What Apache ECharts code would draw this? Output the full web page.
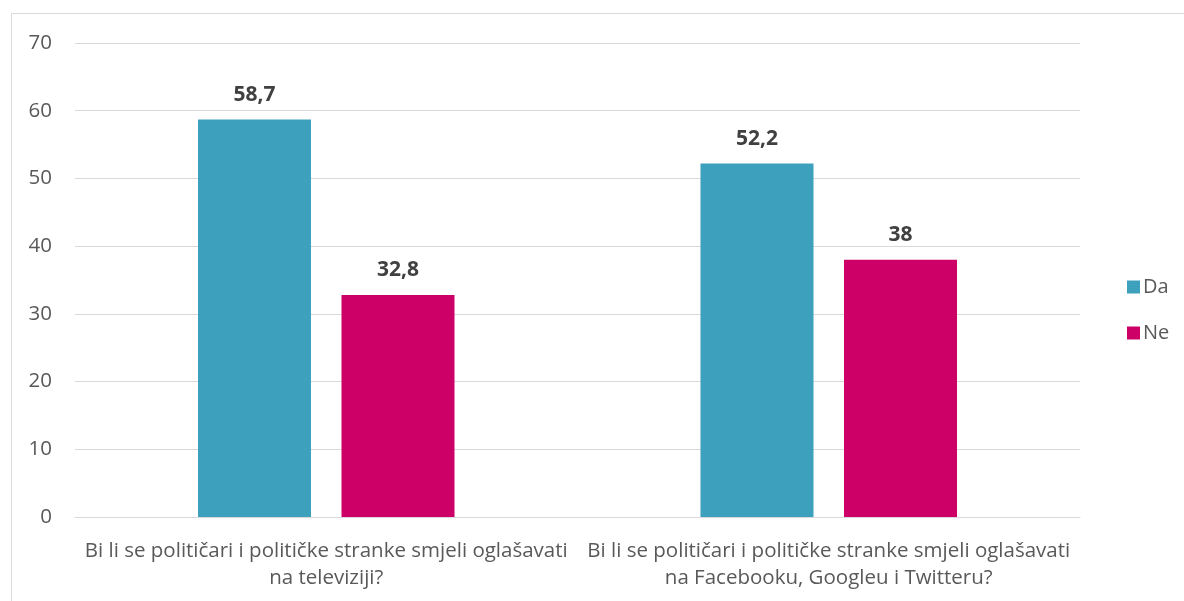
<!DOCTYPE html>
<html>
<head>
<meta charset="utf-8">
<script src="https://cdn.jsdelivr.net/npm/echarts@6/dist/echarts.min.js"></script>
<style>
  html, body { margin: 0; padding: 0; background: #fff; }
  #chart { width: 1184px; height: 601px; }
</style>
</head>
<body>
<div id="chart"></div>
<script>
// kategorije (pitanja)
var categories = [
  'Bi li se političari i političke stranke smjeli oglašavati\nna televiziji?',
  'Bi li se političari i političke stranke smjeli oglašavati\nna Facebooku, Googleu i Twitteru?'
];
var daValues = [58.7, 52.2];
var neValues = [32.8, 38];
var yTicks = [0, 10, 20, 30, 40, 50, 60, 70];

var fontFamily = '"Open Sans", "Noto Sans", sans-serif';

function commaLabel (p) {
  return String(p.value).replace('.', ',');
}

var chart = echarts.init(document.getElementById('chart'));
chart.setOption({
  animation: false,
  textStyle: { fontFamily: fontFamily },
  graphic: [{
    type: 'rect',
    shape: { x: 11.5, y: 13.5, width: 1180, height: 600 },
    style: { fill: 'none', stroke: '#d9d9d9', lineWidth: 1 },
    silent: true
  }],
  legend: {
    orient: 'vertical',
    left: 1122,
    top: 272,
    itemWidth: 13,
    itemHeight: 13,
    itemGap: 26,
    icon: 'rect',
    textStyle: { fontSize: 20, color: '#595959', fontFamily: fontFamily, padding: [0, 0, 0, -2] },
    data: ['Da', 'Ne']
  },
  grid: { left: 75, right: 104, top: 43, bottom: 84 },
  xAxis: {
    type: 'category',
    data: categories,
    axisTick: { show: false },
    axisLine: { lineStyle: { color: '#d9d9d9', width: 1 } },
    axisLabel: {
      interval: 0,
      color: '#595959',
      fontSize: 20.5,
      lineHeight: 27,
      margin: 21,
      fontFamily: fontFamily
    }
  },
  yAxis: {
    type: 'value',
    min: yTicks[0],
    max: yTicks[yTicks.length - 1],
    interval: 10,
    axisLine: { show: false },
    axisTick: { show: false },
    axisLabel: { color: '#595959', fontSize: 20.5, margin: 23, fontFamily: fontFamily },
    splitLine: { lineStyle: { color: '#d9d9d9', width: 1 } }
  },
  series: [
    {
      name: 'Da',
      type: 'bar',
      data: daValues,
      barWidth: 113,
      barGap: '27%',
      itemStyle: { color: '#3da1be' },
      label: {
        show: true, position: 'top', distance: 14,
        formatter: commaLabel,
        fontSize: 21, fontWeight: 'bold', color: '#404040', fontFamily: fontFamily
      }
    },
    {
      name: 'Ne',
      type: 'bar',
      data: neValues,
      barWidth: 113,
      itemStyle: { color: '#cc0066' },
      label: {
        show: true, position: 'top', distance: 14,
        formatter: commaLabel,
        fontSize: 21, fontWeight: 'bold', color: '#404040', fontFamily: fontFamily
      }
    }
  ]
});
</script>
</body>
</html>
